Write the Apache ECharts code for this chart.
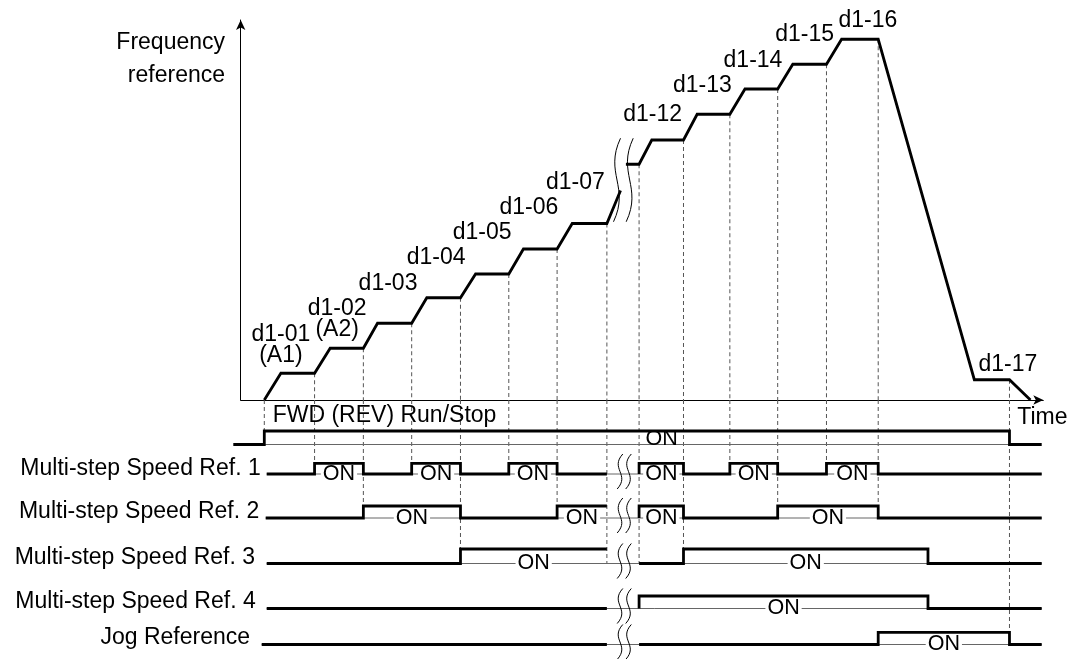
<!DOCTYPE html>
<html>
<head>
<meta charset="utf-8">
<script src="https://cdn.jsdelivr.net/npm/echarts@6/dist/echarts.min.js"></script>
<style>html,body{margin:0;padding:0;background:#fff}#c{width:1069px;height:659px}</style>
</head>
<body>
<div id="c"></div>
<script>
// ---------------- DATA ----------------
// frequency reference curve: [time, frequency level]
const freqBeforeBreak = [[0,0],[0.34,1.07],[1.03,1.07],[1.35,2.07],[2.03,2.07],[2.32,3.07],[3.02,3.07],[3.33,4.09],[4.02,4.09],[4.33,5.04],[5.01,5.04],[5.31,6.04],[6.00,6.04],[6.31,7.06],[7.02,7.06],[7.30,8.38]];
const freqAfterBreak = [[7.41,9.43],[7.68,9.43],[7.94,10.40],[8.59,10.40],[8.87,11.43],[9.54,11.43],[9.85,12.44],[10.52,12.44],[10.83,13.43],[11.52,13.43],[11.83,14.43],[12.58,14.43],[14.55,0.81],[15.27,0.81],[15.70,0]];
const stepLabels = ['d1-01\n(A1)','d1-02\n(A2)','d1-03','d1-04','d1-05','d1-06','d1-07','d1-12','d1-13','d1-14','d1-15','d1-16','d1-17'];
const signalNames = ['FWD (REV) Run/Stop','Multi-step Speed Ref. 1','Multi-step Speed Ref. 2','Multi-step Speed Ref. 3','Multi-step Speed Ref. 4','Jog Reference'];
// ON intervals [rise, fall] per signal
const pulsesFwd  = [[0,15.27]];
const pulsesRef1 = [[1.03,2.03],[3.02,4.02],[5.01,6.00],[7.68,8.59],[9.54,10.52],[11.52,12.58]];
const pulsesRef2 = [[2.03,4.02],[6.00,7.35],[7.68,8.59],[10.52,12.58]];
const pulsesRef3 = [[4.02,7.35],[8.59,13.60]];
const pulsesRef4 = [[7.68,13.60]];
const pulsesJog  = [[12.58,15.27]];
const signalPulses = [pulsesFwd,pulsesRef1,pulsesRef2,pulsesRef3,pulsesRef4,pulsesJog];
const onText = 'ON';
const timeLabel = 'Time';
const freqLabel = ['Frequency','reference'];
// time axis break (hidden span)
const breakSpan = [7.02, 7.68];
// dashed guide lines: time, signal row reached, level reached
const guideTimes = [0,1.03,2.03,3.02,4.02,5.01,6.00,7.02,7.68,8.59,9.54,10.52,11.52,12.58,15.27];
const guideRows  = [0,1,2,1,3,1,2,3,3,3,1,2,1,2,5];
const guideLevel = ['high','high','high','high','high','high','high','low','low','high','high','high','high','high','high'];

// ---------------- LAYOUT ----------------
const K = 48.8, T0 = 264.3, FPX = 25;           // px per time unit, px of t=0, px per freq unit
const tAt = px => (px - T0) / K;
const FONT = '"Liberation Sans", Arial, Helvetica, sans-serif';
const FS = 23;
const rowLow  = [44.5, 74, 118, 163.5, 208.5, 244.5];  // grid-2 units (px below 400)
const rowHigh = [31, 63.3, 106, 149, 196, 232.3];
const rowStart = [tAt(233.3), tAt(266.7), tAt(265.7), tAt(266.7), tAt(266.7), tAt(261.7)];
const rowEnd = tAt(1041.7);
const stepLabelOffsets = [[0,-28],[7,-29],[10.5,-40],[9.3,-39.7],[6.5,-41],[5.5,-41],[3.2,-40.5],[0.8,-25.3],[5.2,-28.3],[8,-28],[11.8,-29.3],[26.3,-18.8],[33.5,-15.2]];
const rowLabelPos = [null,[260.7,469],[259.3,511.5],[255,557.2],[255.7,601.5],[250,637.4]];
const fwdOnT = 8.14;

// ---------------- HELPERS ----------------
function curveAt(t){
  for (const arr of [freqBeforeBreak, freqAfterBreak]) {
    for (let i=0;i<arr.length;i++){
      if (arr[i][0] === t) return arr[i][1];
      if (i>0 && arr[i-1][0] < t && t < arr[i][0]) {
        const a=arr[i-1], b=arr[i];
        return a[1] + (b[1]-a[1])*(t-a[0])/(b[0]-a[0]);
      }
    }
  }
  return 0;
}
function stepPath(pl, a, b, low, high){
  const lv = t => pl.some(p => p[0] <= t && t < p[1]) ? high : low;
  let cur = lv(a - 1e-6);
  const pts = [[a, cur]];
  const edges = [];
  pl.forEach(p => edges.push(p[0], p[1]));
  edges.filter(t => t >= a && t < b).sort((x,y)=>x-y).forEach(t => {
    const nv = lv(t);
    if (nv !== cur) { pts.push([t, cur],[t, nv]); cur = nv; }
  });
  pts.push([b, cur]);
  return pts;
}
const thick = {color:'#000', width:2.8, join:'miter', cap:'butt'};
const series = [];
function line(data, xi, style, z){
  series.push({type:'line', xAxisIndex:xi, yAxisIndex:xi, data, symbol:'none', silent:true,
    lineStyle:style, z:z||2, animation:false});
}

// frequency curve
line(freqBeforeBreak, 0, thick, 4);
line(freqAfterBreak, 0, thick, 4);

// step labels attached to flat starts
const anchors = [1,3,5,7,9,11,13].map(i=>freqBeforeBreak[i]).concat([2,4,6,8,10,12].map(i=>freqAfterBreak[i]));
series.push({type:'scatter', xAxisIndex:0, yAxisIndex:0, symbol:'circle', symbolSize:1, silent:true, z:6,
  itemStyle:{color:'transparent', opacity:1},
  data: anchors.map((p,i)=>({value:p, label:{show:true, formatter:stepLabels[i], offset:stepLabelOffsets[i]}})),
  label:{show:true, position:'inside', color:'#000', opacity:1, fontFamily:FONT, fontSize:FS, lineHeight:21.5, align:'center', verticalAlign:'middle'}
});

// dashed guides
const dash = {color:'#555', width:1, type:[4,3]};
guideTimes.forEach((t,i)=>{
  const f = curveAt(t);
  if (f > 0) line([[t,f],[t,0]], 0, dash, 1);
  const r = guideRows[i];
  const yEnd = guideLevel[i] === 'high' ? rowHigh[r] : rowLow[r];
  line([[t,0],[t,yEnd]], 1, dash, 1);
});

// signal rows
signalPulses.forEach((pl, r) => {
  const thinFrom = r === 0 ? pl[0][0] : rowStart[r];
  const thinTo = r === 0 ? pl[0][1] : rowEnd;
  line([[thinFrom,rowLow[r]],[thinTo,rowLow[r]]], 1, {color:'#666', width:1}, 2);
  if (r === 0) {
    line(stepPath(pl, rowStart[r], rowEnd, rowLow[r], rowHigh[r]), 1, thick, 3);
  } else {
    line(stepPath(pl, rowStart[r], breakSpan[0], rowLow[r], rowHigh[r]), 1, thick, 3);
    line(stepPath(pl, breakSpan[1], rowEnd, rowLow[r], rowHigh[r]), 1, thick, 3);
  }
});

// ON labels
const onData = [];
signalPulses.forEach((pl, r) => {
  if (r === 0) { onData.push({value:[fwdOnT, (rowLow[0]+rowHigh[0])/2 + 1.5], label:{backgroundColor:'transparent'}}); return; }
  pl.forEach(p => {
    let a = p[0], b = p[1];
    if (a < breakSpan[0]) b = Math.min(b, breakSpan[0]); else a = Math.max(a, breakSpan[1]);
    onData.push({value:[(a+b)/2, rowLow[r]]});
  });
});
series.push({type:'scatter', xAxisIndex:1, yAxisIndex:1, symbol:'circle', symbolSize:1, silent:true, z:7,
  itemStyle:{color:'transparent', opacity:1}, data:onData,
  label:{show:true, position:'inside', formatter:onText, color:'#000', opacity:1, fontFamily:FONT, fontSize:21.5,
    lineHeight:13, backgroundColor:'#fff', padding:[0,2], align:'center', verticalAlign:'middle'}
});

// break marks
function waveItem(w){
  return function(params, api){
    const top = api.coord([api.value(0), api.value(1)]);
    const bot = api.coord([api.value(0), api.value(2)]);
    const y0 = Math.min(top[1], bot[1]), y1 = Math.max(top[1], bot[1]);
    const h = y1 - y0, x = top[0];
    return {type:'bezierCurve', shape:{x1:x+w*0.35, y1:y0, cpx1:x-w*1.3, cpy1:y0+h*0.42, cpx2:x+w*1.3, cpy2:y0+h*0.58, x2:x-w*0.35, y2:y1},
      style:{stroke:'#000', fill:null, lineWidth:1}};
  };
}
series.push({type:'custom', xAxisIndex:0, yAxisIndex:0, silent:true, z:5, renderItem:waveItem(10),
  data:[[tAt(617), 7.13, 10.47],[tAt(629.7), 7.13, 10.47]]});
const rowWaves = [];
for (let r=1;r<6;r++){ rowWaves.push([tAt(620), rowLow[r]-20, rowLow[r]+15],[tAt(628.5), rowLow[r]-20, rowLow[r]+15]); }
series.push({type:'custom', xAxisIndex:1, yAxisIndex:1, silent:true, z:5, renderItem:waveItem(8), data:rowWaves});

// ---------------- TEXT ----------------
const txt = (text, x, y, align) => ({type:'text', x, y, silent:true, z:10,
  style:{text, x:0, y:0, fill:'#000', font:FS+'px '+FONT, align, verticalAlign:'middle', textAlign:align, textVerticalAlign:'middle'}});
const graphic = [
  txt(freqLabel[0], 225, 42.2, 'right'),
  txt(freqLabel[1], 225, 75.6, 'right'),
  txt(timeLabel, 1017.3, 417.4, 'left'),
  txt(signalNames[0], 272.7, 415.7, 'left')
];
for (let r=1;r<6;r++) graphic.push(txt(signalNames[r], rowLabelPos[r][0], rowLabelPos[r][1], 'right'));

const axisArrow = {show:true, onZero:false, symbol:['none','arrow'], symbolSize:[7,10], lineStyle:{color:'#000', width:1}};
const hidden = {axisTick:{show:false}, axisLabel:{show:false}, splitLine:{show:false}};
const option = {
  animation:false,
  backgroundColor:'#fff',
  grid:[{left:240.7, top:20, width:1043.3-240.7, height:380},
        {left:225, top:400, width:1043.3-225, height:259}],
  xAxis:[Object.assign({gridIndex:0, type:'value', min:tAt(240.7), max:tAt(1043.3), axisLine:axisArrow}, hidden),
         {gridIndex:1, type:'value', min:tAt(225), max:tAt(1043.3), show:false}],
  yAxis:[Object.assign({gridIndex:0, type:'value', min:0, max:380/FPX, axisLine:axisArrow}, hidden),
         {gridIndex:1, type:'value', min:0, max:259, inverse:true, show:false}],
  series,
  graphic
};
const chart = echarts.init(document.getElementById('c'), null, {renderer:'canvas'});
chart.setOption(option);
</script>
</body>
</html>
